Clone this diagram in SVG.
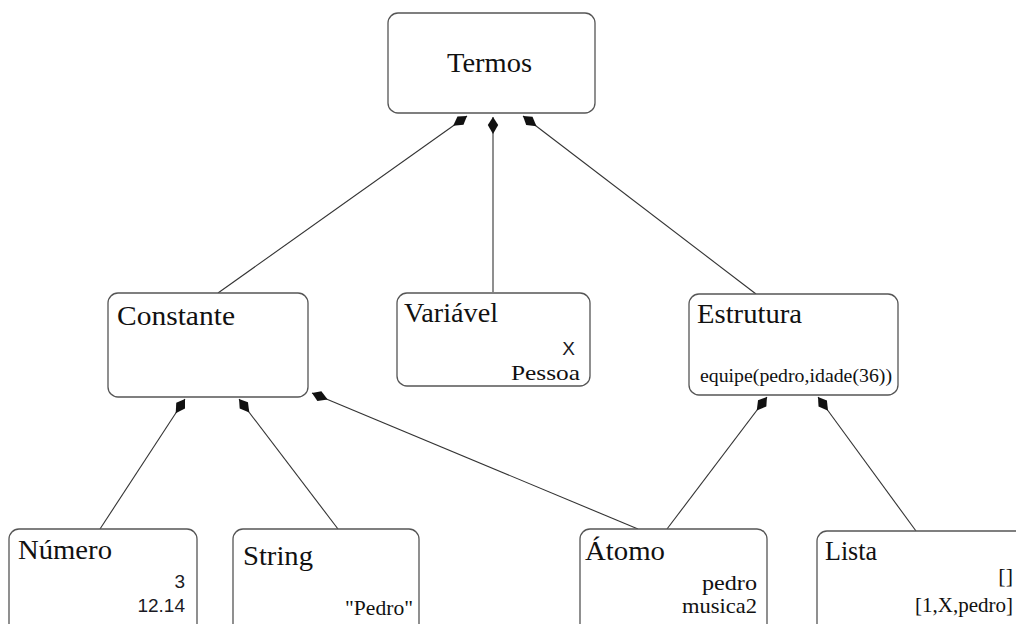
<svg xmlns="http://www.w3.org/2000/svg" width="1016" height="624" viewBox="0 0 1016 624">
  <style>
    .box { fill: #ffffff; stroke: #555555; stroke-width: 1.3; }
    .title { font-family: "Liberation Serif", "DejaVu Serif", serif; font-size: 28px; fill: #111111; }
    .val { font-family: "Liberation Serif", "DejaVu Serif", serif; font-size: 22px; fill: #111111; text-anchor: end; }
    .num { font-family: "Liberation Sans", Arial, sans-serif; font-size: 19px; fill: #1a1a24; text-anchor: end; }
    .edge { fill: none; stroke: #333333; stroke-width: 1.1; marker-end: url(#head); }
  </style>
  <defs>
    <marker id="head" viewBox="-18 -7 19 14" refX="0" refY="0" markerWidth="19" markerHeight="14" markerUnits="userSpaceOnUse" orient="auto">
      <path d="M0,0 L-8,-5.2 L-17,0 L-8,5.2 Z" fill="#111111"/>
    </marker>
  </defs>
  <rect width="1016" height="624" fill="#ffffff"/>

  <g id="connectors">
    <line class="edge" x1="218" y1="293" x2="467" y2="116"/>
    <line class="edge" x1="493" y1="292" x2="493" y2="117"/>
    <line class="edge" x1="756" y1="294" x2="523" y2="116"/>
    <line class="edge" x1="100" y1="529" x2="185" y2="399"/>
    <line class="edge" x1="338" y1="529" x2="239" y2="399"/>
    <line class="edge" x1="638" y1="529" x2="312" y2="393"/>
    <line class="edge" x1="667" y1="529" x2="767" y2="397"/>
    <line class="edge" x1="916" y1="531" x2="818" y2="397"/>
  </g>

  <g id="termos">
    <rect class="box" x="388" y="13" width="207" height="100" rx="10"/>
    <text class="title" x="447" y="72" textLength="85" lengthAdjust="spacingAndGlyphs">Termos</text>
  </g>

  <g id="constante">
    <rect class="box" x="108" y="293" width="200" height="104" rx="10"/>
    <text class="title" x="117" y="325" textLength="118" lengthAdjust="spacingAndGlyphs">Constante</text>
  </g>

  <g id="variavel">
    <rect class="box" x="397" y="293" width="193" height="93" rx="10"/>
    <text class="title" x="404" y="322" textLength="94" lengthAdjust="spacingAndGlyphs">Variável</text>
    <text class="num" x="575" y="355">X</text>
    <text class="val" x="580" y="380" textLength="69" lengthAdjust="spacingAndGlyphs">Pessoa</text>
  </g>

  <g id="estrutura">
    <rect class="box" x="689" y="294" width="209" height="101" rx="10"/>
    <text class="title" x="697" y="323" textLength="105" lengthAdjust="spacingAndGlyphs">Estrutura</text>
    <text class="val" x="892" y="382" style="font-size:19px" textLength="192" lengthAdjust="spacingAndGlyphs">equipe(pedro,idade(36))</text>
  </g>

  <g id="numero">
    <rect class="box" x="9" y="529" width="188" height="110" rx="10"/>
    <text class="title" x="18" y="559" textLength="94" lengthAdjust="spacingAndGlyphs">Número</text>
    <text class="num" x="185" y="588">3</text>
    <text class="num" x="185" y="612">12.14</text>
  </g>

  <g id="string">
    <rect class="box" x="233" y="529" width="186" height="110" rx="10"/>
    <text class="title" x="243" y="565" textLength="70" lengthAdjust="spacingAndGlyphs">String</text>
    <text class="val" x="413" y="615" textLength="68" lengthAdjust="spacingAndGlyphs">"Pedro"</text>
  </g>

  <g id="atomo">
    <rect class="box" x="580" y="529" width="187" height="110" rx="10"/>
    <text class="title" x="585" y="560" textLength="80" lengthAdjust="spacingAndGlyphs">Átomo</text>
    <text class="val" x="757" y="590" style="font-size:21px" textLength="55" lengthAdjust="spacingAndGlyphs">pedro</text>
    <text class="val" x="757" y="613" style="font-size:21px" textLength="75" lengthAdjust="spacingAndGlyphs">musica2</text>
  </g>

  <g id="lista">
    <rect class="box" x="817" y="531" width="220" height="110" rx="10"/>
    <text class="title" x="825" y="560" textLength="52" lengthAdjust="spacingAndGlyphs">Lista</text>
    <text class="val" x="1013" y="583">[]</text>
    <text class="val" x="1013" y="612" textLength="98" lengthAdjust="spacingAndGlyphs">[1,X,pedro]</text>
  </g>
</svg>
